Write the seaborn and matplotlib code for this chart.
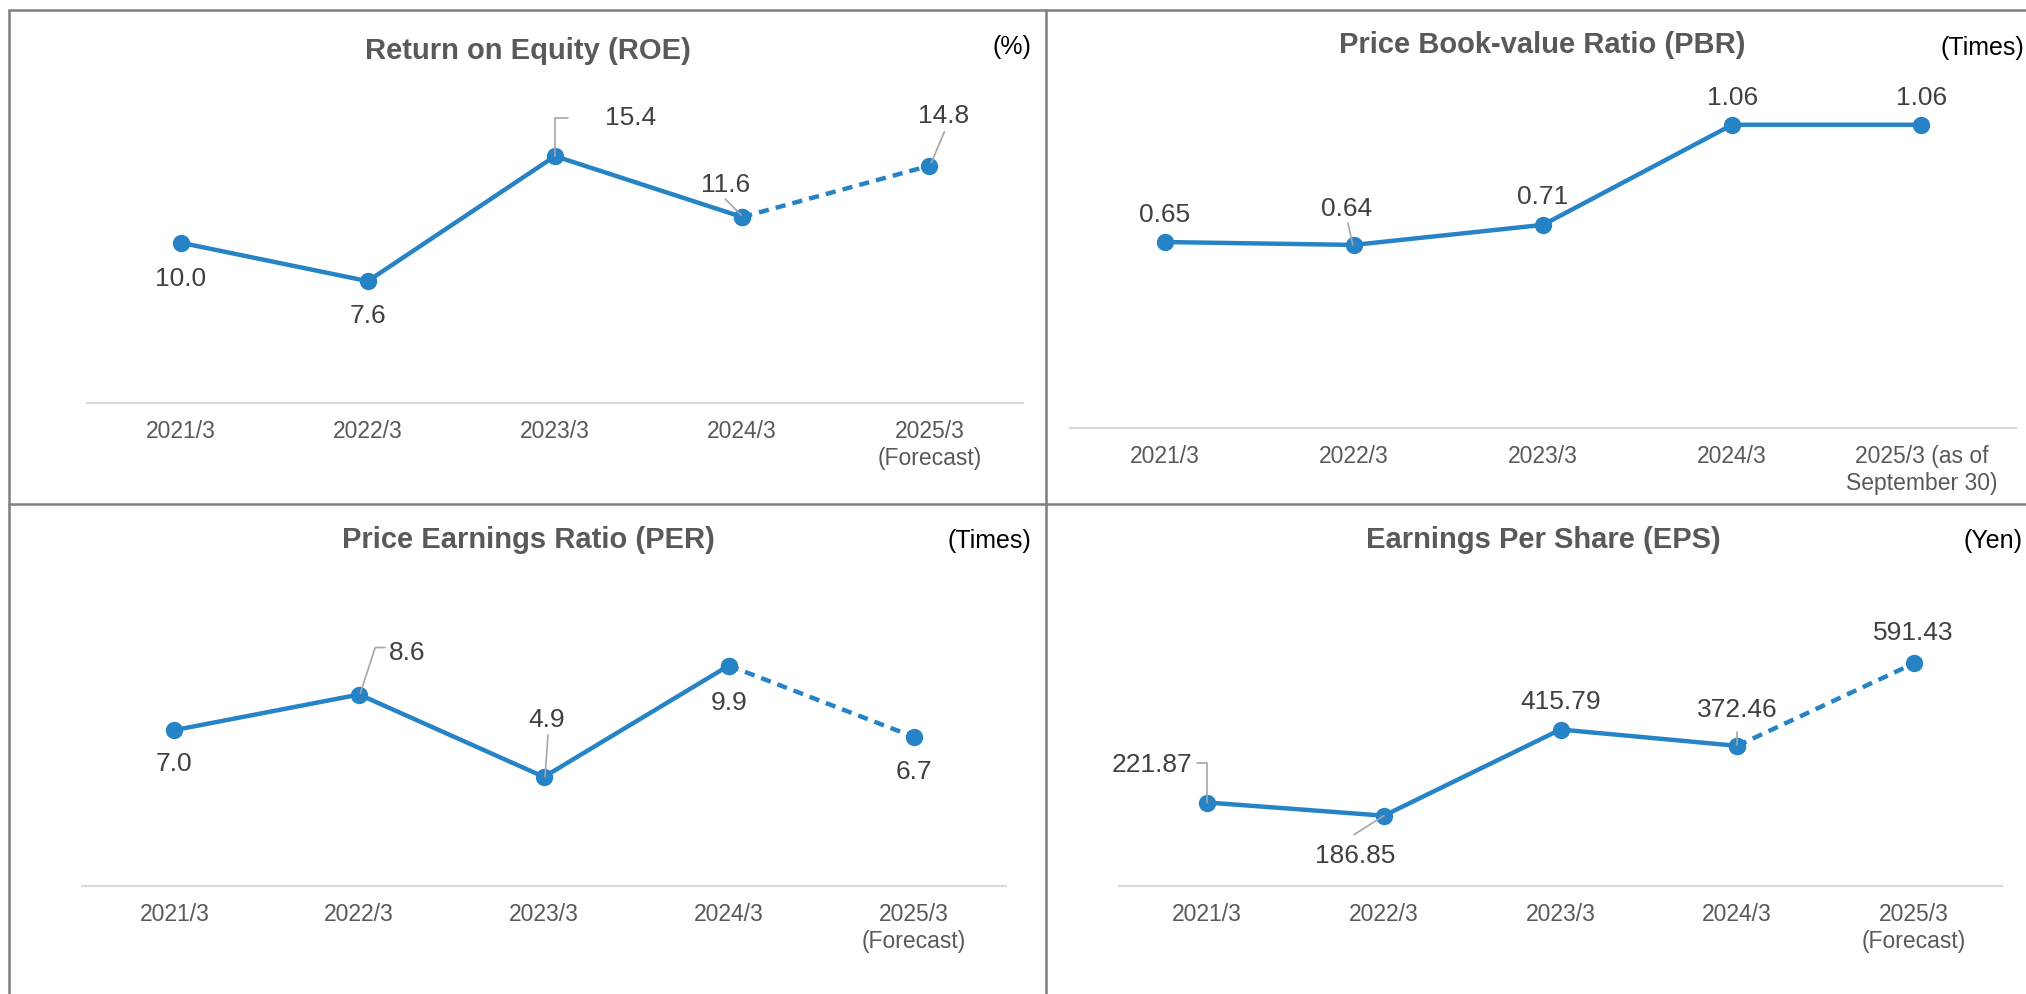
import matplotlib
matplotlib.use("Agg")
import matplotlib.pyplot as plt
from matplotlib.lines import Line2D
import seaborn as sns
import pandas as pd

# ---- data ---------------------------------------------------------------
periods = ["2021/3", "2022/3", "2023/3", "2024/3", "2025/3"]
forecast_ticks = ["2021/3", "2022/3", "2023/3", "2024/3", "2025/3\n(Forecast)"]
pbr_ticks = ["2021/3", "2022/3", "2023/3", "2024/3", "2025/3 (as of\nSeptember 30)"]

roe = [10.0, 7.6, 15.4, 11.6, 14.8]
pbr = [0.65, 0.64, 0.71, 1.06, 1.06]
per = [7.0, 8.6, 4.9, 9.9, 6.7]
eps = [221.87, 186.85, 415.79, 372.46, 591.43]

roe_labels = ["10.0", "7.6", "15.4", "11.6", "14.8"]
pbr_labels = ["0.65", "0.64", "0.71", "1.06", "1.06"]
per_labels = ["7.0", "8.6", "4.9", "9.9", "6.7"]
eps_labels = ["221.87", "186.85", "415.79", "372.46", "591.43"]

# ---- style --------------------------------------------------------------
sns.set_theme(style="white")
plt.rcParams["font.family"] = ["Liberation Sans", "DejaVu Sans"]

W, H, DPI = 2026, 994, 100
BLUE = "#2683C6"
TITLE_C = "#595959"
TICK_C = "#595959"
LABEL_C = "#404040"
LEADER_C = "#a6a6a6"
BORDER_C = "#7f7f7f"

fig = plt.figure(figsize=(W / DPI, H / DPI), dpi=DPI)
fig.patch.set_facecolor("white")


def fx(x):
    return x / W


def fy(y):
    return 1 - y / H


# panel layout in pixels: plot box (left, right, baseline, top), title, unit text
panels = [
    dict(title="Return on Equity (ROE)", unit="(%)", values=roe, labels=roe_labels,
         ticks=forecast_ticks, dashed_last=True, box=(87, 1023, 403, 100), ytop=18.9,
         title_xy=(528, 59), unit_xy=(1031, 54),
         offsets=[(0, -34), (0, -33), (76, 40), (-17, 34), (14, 52)],
         leaders={2: [(0, 0), (0, 38), (13, 38)], 3: [(-17, 18), (-1, 2)],
                  4: [(15, 34), (2, 3)]}),
    dict(title="Price Book-value Ratio (PBR)", unit="(Times)", values=pbr, labels=pbr_labels,
         ticks=pbr_ticks, dashed_last=False, box=(1070, 2016, 428, 99), ytop=1.15,
         title_xy=(1542, 53), unit_xy=(2024, 55),
         offsets=[(0, 29), (-7, 38), (0, 30), (0, 29), (0, 29)],
         leaders={1: [(-6, 22), (-1, 0)]}),
    dict(title="Price Earnings Ratio (PER)", unit="(Times)", values=per, labels=per_labels,
         ticks=forecast_ticks, dashed_last=True, box=(82, 1006, 886, 601), ytop=12.8,
         title_xy=(528, 548), unit_xy=(1031, 548),
         offsets=[(0, -32), (48, 44), (3, 59), (0, -35), (0, -33)],
         leaders={1: [(1, 1), (16, 47), (26, 47)], 2: [(4, 42), (1, 0)]}),
    dict(title="Earnings Per Share (EPS)", unit="(Yen)", values=eps, labels=eps_labels,
         ticks=forecast_ticks, dashed_last=True, box=(1119, 2002, 886, 600), ytop=760,
         title_xy=(1543, 548), unit_xy=(2022, 548),
         offsets=[(-55, 40), (-29, -38), (0, 30), (0, 38), (0, 32)],
         leaders={0: [(-10, 40), (0, 40), (0, 0)], 1: [(-30, -19), (0, 0)],
                  3: [(0, 14), (0, 1)]}),
]

for p in panels:
    L, R, B, T = p["box"]
    ax = fig.add_axes([fx(L), fy(B), (R - L) / W, (B - T) / H])
    ax.set_facecolor("none")
    vals = p["values"]
    idx = list(range(len(vals)))
    df = pd.DataFrame({"x": idx, "y": vals})

    if p["dashed_last"]:
        solid = df.iloc[:4]
        dashed = df.iloc[3:]
    else:
        solid = df
        dashed = None

    sns.lineplot(data=solid, x="x", y="y", ax=ax, color=BLUE, linewidth=3.2,
                 marker="o", markersize=12.5, markeredgewidth=0, sort=False,
                 solid_capstyle="round", zorder=3)
    if dashed is not None:
        sns.lineplot(data=dashed, x="x", y="y", ax=ax, color=BLUE, linewidth=3.2,
                     linestyle=(0, (2.3, 1.6)), marker="o", markersize=12.5,
                     markeredgewidth=0, sort=False, zorder=3)

    ax.set_xlim(-0.5, len(vals) - 0.5)
    ax.set_ylim(0, p["ytop"])
    ax.set_xlabel("")
    ax.set_ylabel("")
    ax.set_yticks([])
    ax.set_xticks(idx)
    ax.set_xticklabels(p["ticks"], fontsize=16.5, color=TICK_C, linespacing=1.2)
    ax.tick_params(axis="x", length=0, pad=12.5)
    ax.grid(False)
    for side in ("top", "left", "right"):
        ax.spines[side].set_visible(False)
    ax.spines["bottom"].set_color("#d9d9d9")
    ax.spines["bottom"].set_linewidth(1.6)

    # value labels
    for i, (v, txt) in enumerate(zip(vals, p["labels"])):
        dx, dy = p["offsets"][i]
        ax.annotate(txt, xy=(i, v), xytext=(dx, dy - 9), textcoords="offset pixels",
                    ha="center", va="baseline", fontsize=19, color=LABEL_C,
                    annotation_clip=False, zorder=5)

    # leader lines from labels to points
    to_fig = fig.transFigure.inverted()
    for i, pts in p["leaders"].items():
        px, py = ax.transData.transform((i, vals[i]))
        coords = [to_fig.transform((px + ox, py + oy)) for ox, oy in pts]
        fig.add_artist(Line2D([c[0] for c in coords], [c[1] for c in coords],
                              transform=fig.transFigure, color=LEADER_C,
                              linewidth=1.2, zorder=6))

    # title and unit
    tx, ty = p["title_xy"]
    fig.text(fx(tx), fy(ty), p["title"], ha="center", va="baseline",
             fontsize=21, fontweight="bold", color=TITLE_C)
    ux, uy = p["unit_xy"]
    fig.text(fx(ux), fy(uy), p["unit"], ha="right", va="baseline",
             fontsize=18, color="black")

# panel frame lines
frame = [((9, 10), (2026, 10)), ((9, 10), (9, 994)), ((1046, 10), (1046, 994)),
         ((9, 504), (2026, 504))]
for (x0, y0), (x1, y1) in frame:
    fig.add_artist(Line2D([fx(x0), fx(x1)], [fy(y0), fy(y1)], transform=fig.transFigure,
                          color=BORDER_C, linewidth=1.8, zorder=10))

fig.savefig("out.png", dpi=DPI, facecolor="white")
